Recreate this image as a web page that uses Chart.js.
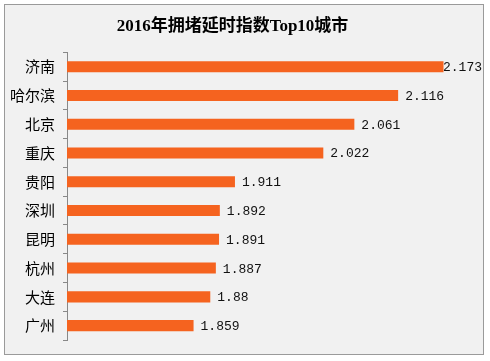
<!DOCTYPE html>
<html>
<head>
<meta charset="utf-8">
<script src="https://cdn.jsdelivr.net/npm/chart.js@4"></script>
<style>
  html, body { margin: 0; padding: 0; background: #fff; }
  #wrap { width: 490px; height: 361px; }
</style>
</head>
<body>
<div id="wrap"><canvas id="chart"></canvas></div>
<script>
const cities = ['济南', '哈尔滨', '北京', '重庆', '贵阳', '深圳', '昆明', '杭州', '大连', '广州'];
const delayIndex = [2.173, 2.116, 2.061, 2.022, 1.911, 1.892, 1.891, 1.887, 1.88, 1.859];
const axisMin = 1.7;
const axisMax = 2.2;

// frame + grey background behind everything
const framePlugin = {
  id: 'frame',
  beforeDraw(chart) {
    const c = chart.ctx;
    c.save();
    c.fillStyle = '#f1f1f1';
    c.fillRect(4, 4, 480, 351);
    c.strokeStyle = '#9a9a9a';
    c.lineWidth = 1;
    c.strokeRect(4.5, 4.5, 479, 350);
    c.restore();
  }
};

// value labels at the end of each bar
const valueLabels = {
  id: 'valueLabels',
  afterDatasetsDraw(chart) {
    const c = chart.ctx;
    const meta = chart.getDatasetMeta(0);
    c.save();
    c.font = '13px "Liberation Mono", monospace';
    c.fillStyle = '#111';
    c.textBaseline = 'middle';
    meta.data.forEach((bar, i) => {
      const txt = String(delayIndex[i]);
      const w = c.measureText(txt).width;
      const x = Math.min(bar.x + 7, 482 - w);
      c.fillText(txt, x, bar.y + 1);
    });
    c.restore();
  }
};

new Chart(document.querySelector('#chart'), {
  type: 'bar',
  data: {
    labels: cities,
    datasets: [{
      data: delayIndex,
      backgroundColor: '#f5631f',
      borderWidth: 0,
      categoryPercentage: 0.8,
      barPercentage: 0.48
    }]
  },
  options: {
    indexAxis: 'y',
    responsive: true,
    maintainAspectRatio: false,
    animation: false,
    layout: { padding: { left: 0, right: 25, top: 0, bottom: 21 } },
    plugins: {
      legend: { display: false },
      tooltip: { enabled: false },
      title: {
        display: true,
        text: '2016年拥堵延时指数Top10城市',
        color: '#000',
        font: { family: '"Liberation Serif", "Noto Sans CJK SC"', size: 17, weight: 'bold' },
        padding: { top: 16, bottom: 16 }
      }
    },
    scales: {
      x: { display: false, min: axisMin, max: axisMax },
      y: {
        afterFit(scale) { scale.width = 67; },
        grid: { drawOnChartArea: false, tickLength: 4, color: '#888', offset: true },
        border: { color: '#888' },
        ticks: {
          color: '#000',
          padding: 8,
          font: { family: '"Noto Sans CJK SC"', size: 15 }
        }
      }
    }
  },
  plugins: [framePlugin, valueLabels]
});
</script>
</body>
</html>
